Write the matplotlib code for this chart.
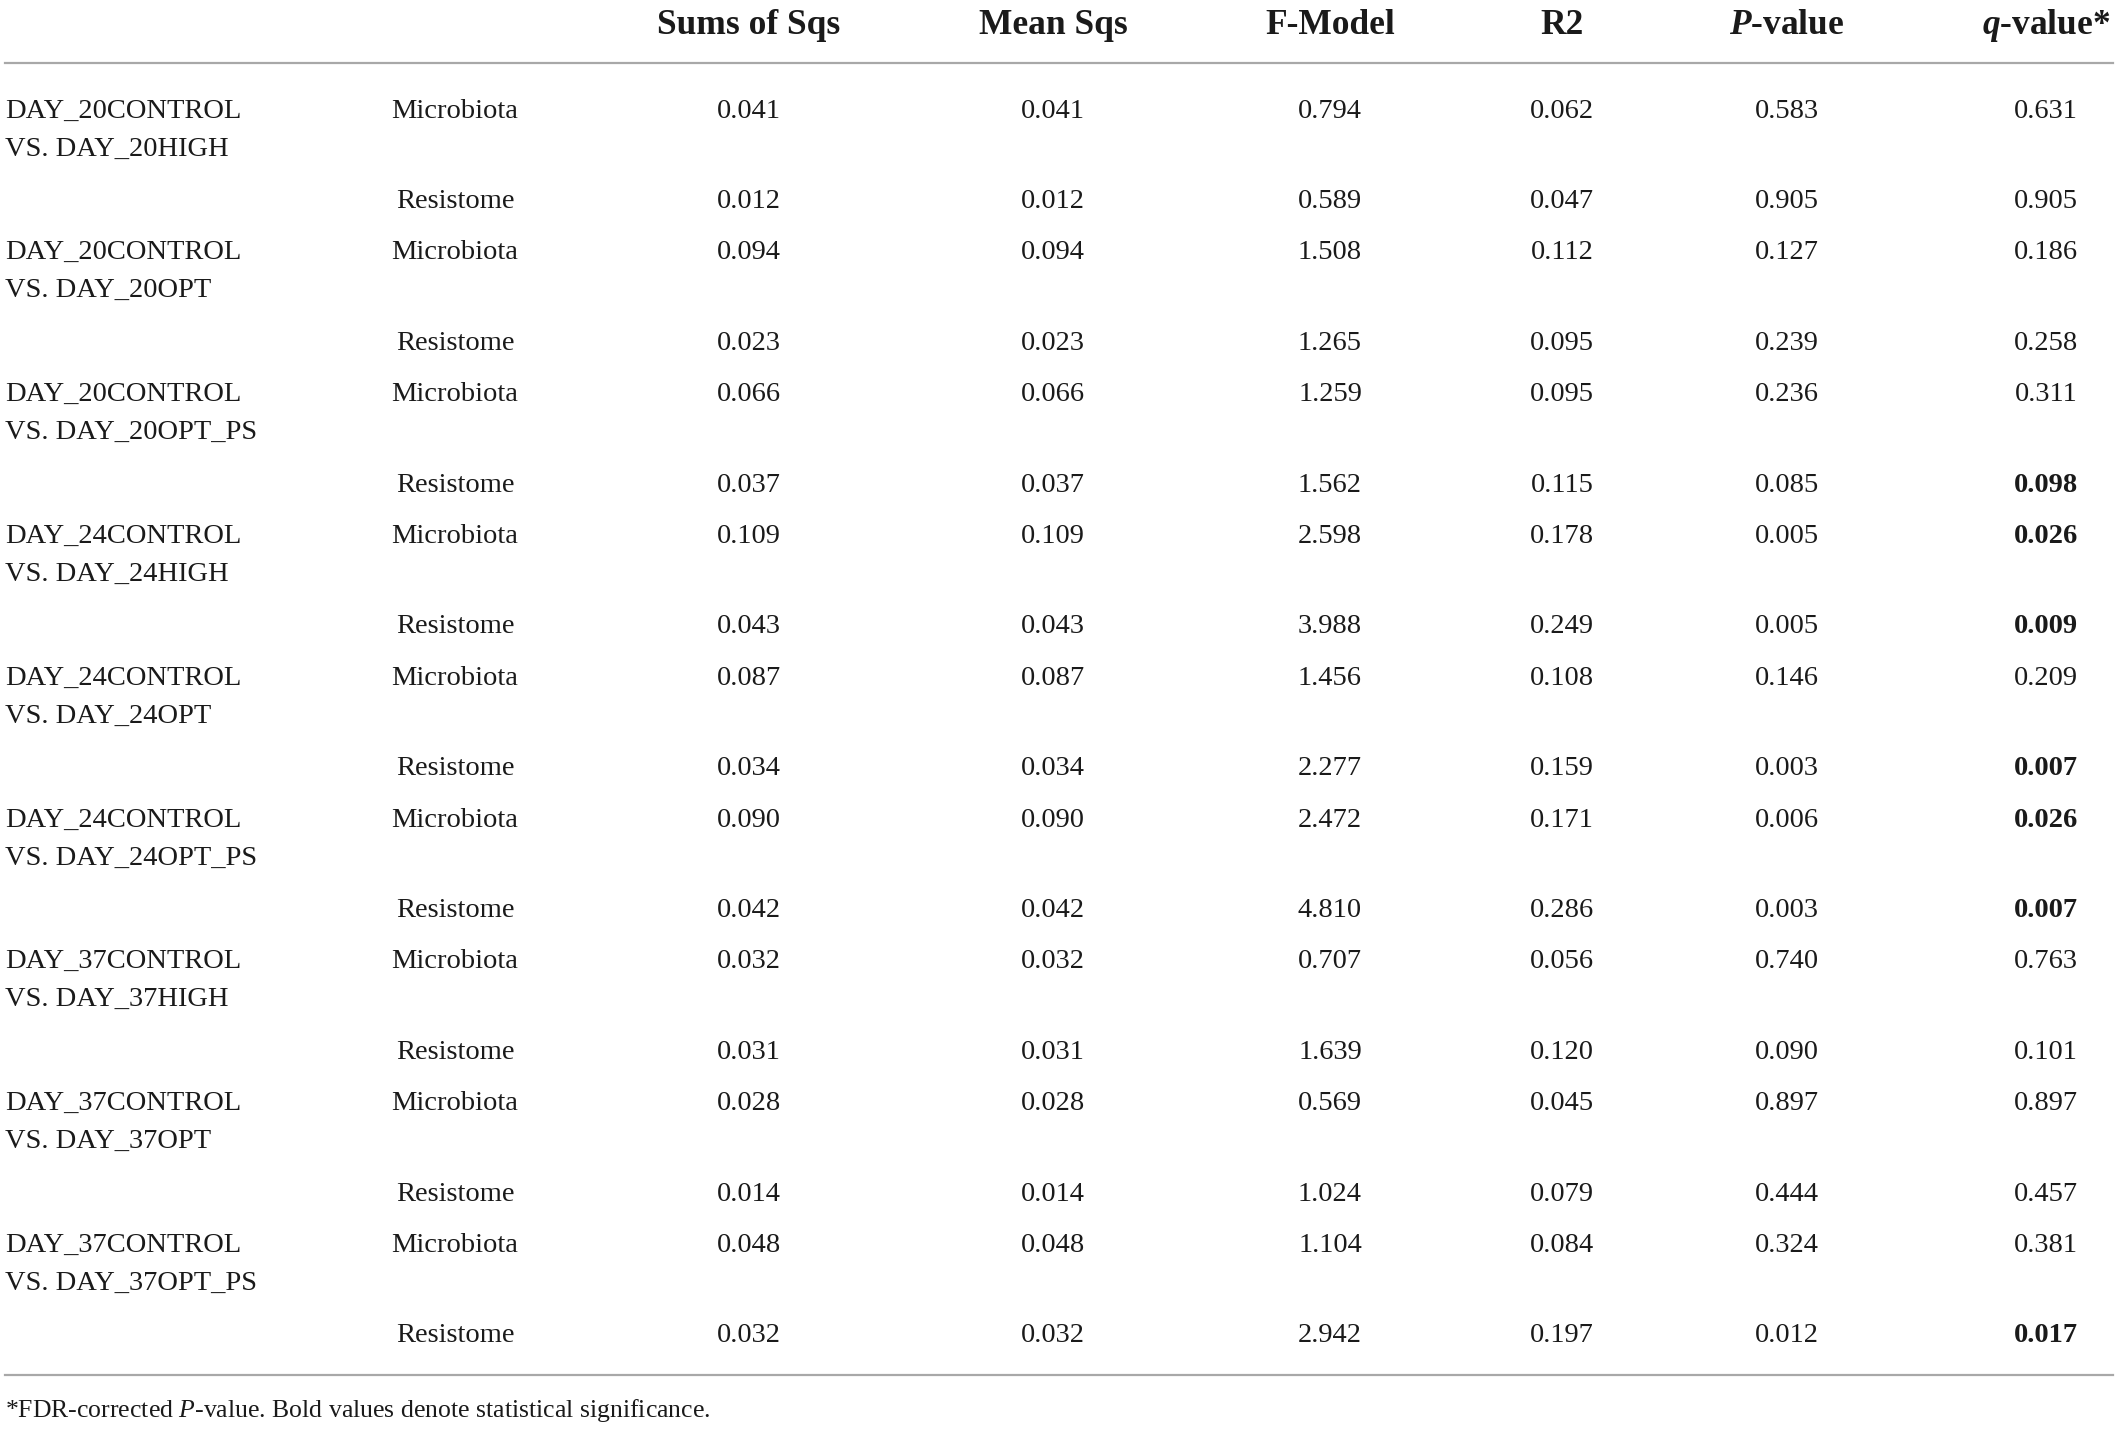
import matplotlib
matplotlib.use("Agg")
import matplotlib.pyplot as plt

plt.rcParams['font.family'] = ['Liberation Serif', 'DejaVu Serif']
plt.rcParams['mathtext.fontset'] = 'custom'
plt.rcParams['mathtext.rm'] = 'Liberation Serif'
plt.rcParams['mathtext.it'] = 'Liberation Serif:italic'
plt.rcParams['mathtext.bf'] = 'Liberation Serif:bold'
plt.rcParams['mathtext.bfit'] = 'Liberation Serif:italic:bold'

# ---- table data ----
headers = ["Sums of Sqs", "Mean Sqs", "F-Model", "R2",
           r"$\mathbfit{P}$-value", r"$\mathbfit{q}$-value*"]

comparisons = [
    "DAY_20CONTROL\nVS. DAY_20HIGH",
    "DAY_20CONTROL\nVS. DAY_20OPT",
    "DAY_20CONTROL\nVS. DAY_20OPT_PS",
    "DAY_24CONTROL\nVS. DAY_24HIGH",
    "DAY_24CONTROL\nVS. DAY_24OPT",
    "DAY_24CONTROL\nVS. DAY_24OPT_PS",
    "DAY_37CONTROL\nVS. DAY_37HIGH",
    "DAY_37CONTROL\nVS. DAY_37OPT",
    "DAY_37CONTROL\nVS. DAY_37OPT_PS",
]
types = ["Microbiota", "Resistome"]

sums_sq = ["0.041", "0.012", "0.094", "0.023", "0.066", "0.037",
           "0.109", "0.043", "0.087", "0.034", "0.090", "0.042",
           "0.032", "0.031", "0.028", "0.014", "0.048", "0.032"]
mean_sq = list(sums_sq)
f_model = ["0.794", "0.589", "1.508", "1.265", "1.259", "1.562",
           "2.598", "3.988", "1.456", "2.277", "2.472", "4.810",
           "0.707", "1.639", "0.569", "1.024", "1.104", "2.942"]
r2 = ["0.062", "0.047", "0.112", "0.095", "0.095", "0.115",
      "0.178", "0.249", "0.108", "0.159", "0.171", "0.286",
      "0.056", "0.120", "0.045", "0.079", "0.084", "0.197"]
p_value = ["0.583", "0.905", "0.127", "0.239", "0.236", "0.085",
           "0.005", "0.005", "0.146", "0.003", "0.006", "0.003",
           "0.740", "0.090", "0.897", "0.444", "0.324", "0.012"]
q_value = ["0.631", "0.905", "0.186", "0.258", "0.311", "0.098",
           "0.026", "0.009", "0.209", "0.007", "0.026", "0.007",
           "0.763", "0.101", "0.897", "0.457", "0.381", "0.017"]
q_bold = [False, False, False, False, False, True,
          True, True, False, True, True, True,
          False, False, False, False, False, True]

footnote = r"*FDR-corrected $\mathit{P}$-value. Bold values denote statistical significance."

# ---- layout (pixels) ----
W, H = 2117, 1429
col_x = [749, 1053, 1330, 1562, 1787, 2046]
type_x = 455
label_x = 5
header_y = 25
top_line_y = 63
bottom_line_y = 1375
first_row_y = 111
group_step = 141.8
res_offset = 90.5
line_gap = 38
body_fs = 20.5
head_fs = 25.5
line_col = "#a8a8a8"
txt_col = "#1a1a1a"

fig = plt.figure(figsize=(W / 100, H / 100), dpi=100)
ax = fig.add_axes([0, 0, 1, 1])
ax.set_xlim(0, W)
ax.set_ylim(H, 0)
ax.axis("off")

for x, h in zip(col_x, headers):
    ax.text(x, header_y, h, ha="center", va="center", fontsize=head_fs,
            fontweight="bold", color=txt_col)

ax.plot([5, 2113], [top_line_y, top_line_y], color=line_col, lw=1.6)
ax.plot([5, 2113], [bottom_line_y, bottom_line_y], color=line_col, lw=1.6)

columns = [sums_sq, mean_sq, f_model, r2, p_value, q_value]
for g, comp in enumerate(comparisons):
    gy = first_row_y + g * group_step
    first, second = comp.split("\n")
    ax.text(label_x, gy, first, ha="left", va="center", fontsize=body_fs, color=txt_col)
    ax.text(label_x, gy + line_gap, second, ha="left", va="center", fontsize=body_fs, color=txt_col)
    for k, t in enumerate(types):
        i = 2 * g + k
        ry = gy + k * res_offset
        ax.text(type_x, ry, t, ha="center", va="center", fontsize=body_fs, color=txt_col)
        for c, (x, col) in enumerate(zip(col_x, columns)):
            bold = (c == 5 and q_bold[i])
            ax.text(x, ry, col[i], ha="center", va="center", fontsize=body_fs,
                    fontweight="bold" if bold else "normal", color=txt_col)

ax.text(label_x, 1411, footnote, ha="left", va="center", fontsize=18.5, color=txt_col)

fig.savefig("out.png", dpi=100)
